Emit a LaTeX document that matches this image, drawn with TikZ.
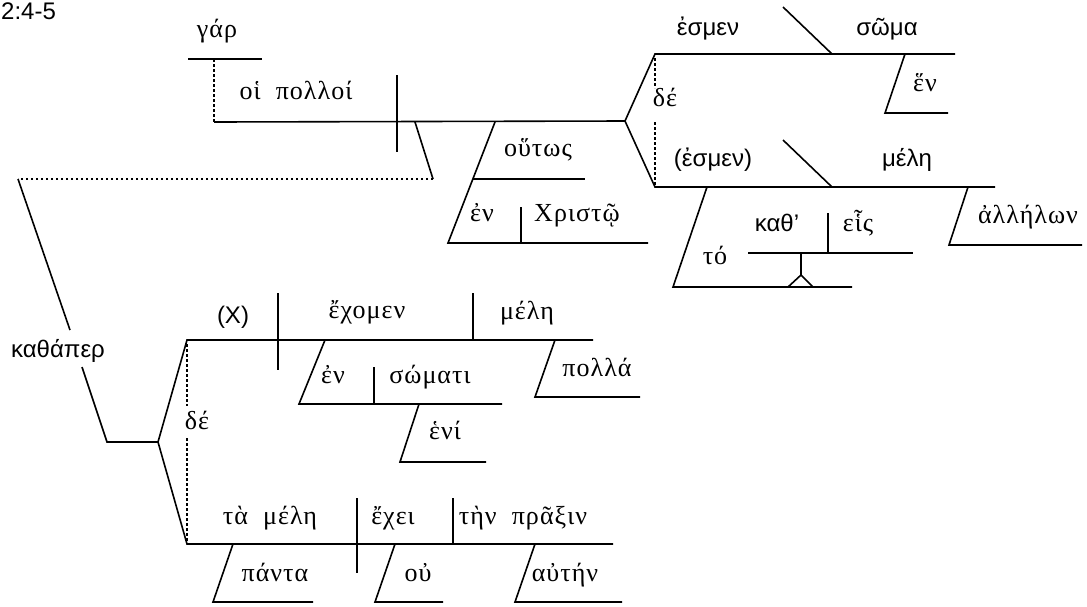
\documentclass[tikz,border=0pt]{standalone}
\usepackage{fontspec}
\setmainfont{Liberation Serif}
\newfontfamily\grkfont[LetterSpace=4]{Liberation Serif}
\newfontfamily\arialfont{Liberation Sans}
\usepackage{tikz}
\tikzset{
  grk/.style={font=\fontsize{26}{30}\selectfont\grkfont, inner sep=0pt, anchor=base},
  lat/.style={font=\fontsize{24}{28}\selectfont\arialfont, inner sep=0pt, anchor=base},
  rule/.style={line width=1.6pt},
  dotrule/.style={line width=1.8pt, dash pattern=on 2.5pt off 2.5pt},
}

\begin{document}
\begin{tikzpicture}[x=1pt,y=-1pt]
  \useasboundingbox (0,0) rectangle (1087,606);
  % Verse reference
  \node[lat, anchor=base west] (ref) at (1,19) {2:4-5};

  % Main clause: oi polloi ... esmen
  \node[grk] (gar) at (217,37) {γάρ};
  \node[grk] (polloi) at (296,99) {οἱ\ \ πολλοί};
  \draw[rule] (188,59) -- (262,59);
  \draw[dotrule] (214,59) -- (214,122);
  \draw[rule] (214,122) -- (625,121);
  \draw[rule] (397,75) -- (397,152);
  \coordinate (fk1) at (625,121);

  % houtos / en Christo
  \node[grk] (houtos) at (538,156) {οὕτως};
  \node[grk] (en1) at (482,221) {ἐν};
  \node[grk] (christo) at (577,221) {Χριστῷ};
  \draw[rule] (495,122) -- (448,243) -- (648,243);
  \draw[rule] (473,179) -- (585,179);
  \draw[rule] (521,207) -- (521,243);

  % Compound predicate
  \draw[rule] (fk1) -- (655,54) -- (955,54);
  \draw[rule] (fk1) -- (655,187) -- (995,187);
  \draw[dotrule] (655,58) -- (655,88);
  \draw[dotrule] (655,122) -- (655,185);
  \node[grk] (de1) at (665,106) {δέ};
  \node[lat] (esmen) at (708,35) {ἐσμεν};
  \node[lat] (soma) at (887,35) {σῶμα};
  \draw[rule] (783,7) -- (832,54);
  \node[grk] (hen) at (925,91) {ἕν};
  \draw[rule] (905,54) -- (885,113) -- (948,113);
  \node[lat] (esmen2) at (713,166) {(ἐσμεν)};
  \node[lat] (mele1) at (907,166) {μέλη};
  \draw[rule] (783,140) -- (832,187);

  % to kath' heis
  \node[grk] (to) at (715,264) {τό};
  \node[lat] (kath) at (777,231) {καθ’};
  \node[grk] (heis) at (858,231) {εἷς};
  \draw[rule] (707,187) -- (673,287) -- (852,287);
  \draw[rule] (748,253) -- (913,253);
  \draw[rule] (828,213) -- (828,253);
  \draw[rule] (801,253) -- (801,275);
  \draw[rule] (788,287) -- (801,275) -- (813,287);

  % allelon
  \node[grk] (allelon) at (1028,223) {ἀλλήλων};
  \draw[rule] (968,187) -- (949,245) -- (1082,245);

  % kathaper link
  \draw[rule] (415,122) -- (433,179);
  \draw[dotrule] (433,179) -- (18,179);
  \draw[rule] (18,179) -- (70,330);
  \node[lat] (kathaper) at (58,357) {καθάπερ};
  \draw[rule] (82,367) -- (107,442) -- (158,442);
  \coordinate (fk2) at (158,442);

  % Clause: (X) echomen mele
  \draw[rule] (fk2) -- (187,340) -- (593,340);
  \draw[rule] (fk2) -- (187,544) -- (613,544);
  \draw[dotrule] (187,344) -- (187,406);
  \draw[dotrule] (187,438) -- (187,541);
  \node[grk] (de2) at (197,429) {δέ};
  \node[lat] (X) at (233,323) {(X)};
  \node[grk] (echomen) at (367,318) {ἔχομεν};
  \node[grk] (mele2) at (527,319) {μέλη};
  \draw[rule] (278,293) -- (278,370);
  \draw[rule] (473,293) -- (473,340);
  \node[grk] (en2) at (333,383) {ἐν};
  \node[grk] (somati) at (430,383) {σώματι};
  \draw[rule] (325,340) -- (299,404) -- (502,404);
  \draw[rule] (374,367) -- (374,404);
  \node[grk] (heni) at (445,439) {ἑνί};
  \draw[rule] (419,404) -- (400,462) -- (486,462);
  \node[grk] (polla) at (597,376) {πολλά};
  \draw[rule] (555,340) -- (535,397) -- (640,397);

  % Clause: ta mele echei ten praxin
  \node[grk] (tamele) at (270,524) {τὰ\ \ μέλη};
  \node[grk] (echei) at (393,524) {ἔχει};
  \node[grk] (praxin) at (523,524) {τὴν\ \ πρᾶξιν};
  \draw[rule] (357,498) -- (357,573);
  \draw[rule] (453,498) -- (453,544);
  \node[grk] (panta) at (275,581) {πάντα};
  \draw[rule] (233,544) -- (213,602) -- (313,602);
  \node[grk] (ou) at (418,581) {οὐ};
  \draw[rule] (395,544) -- (375,602) -- (443,602);
  \node[grk] (auten) at (565,581) {αὐτήν};
  \draw[rule] (535,544) -- (515,602) -- (622,602);
\end{tikzpicture}
\end{document}
